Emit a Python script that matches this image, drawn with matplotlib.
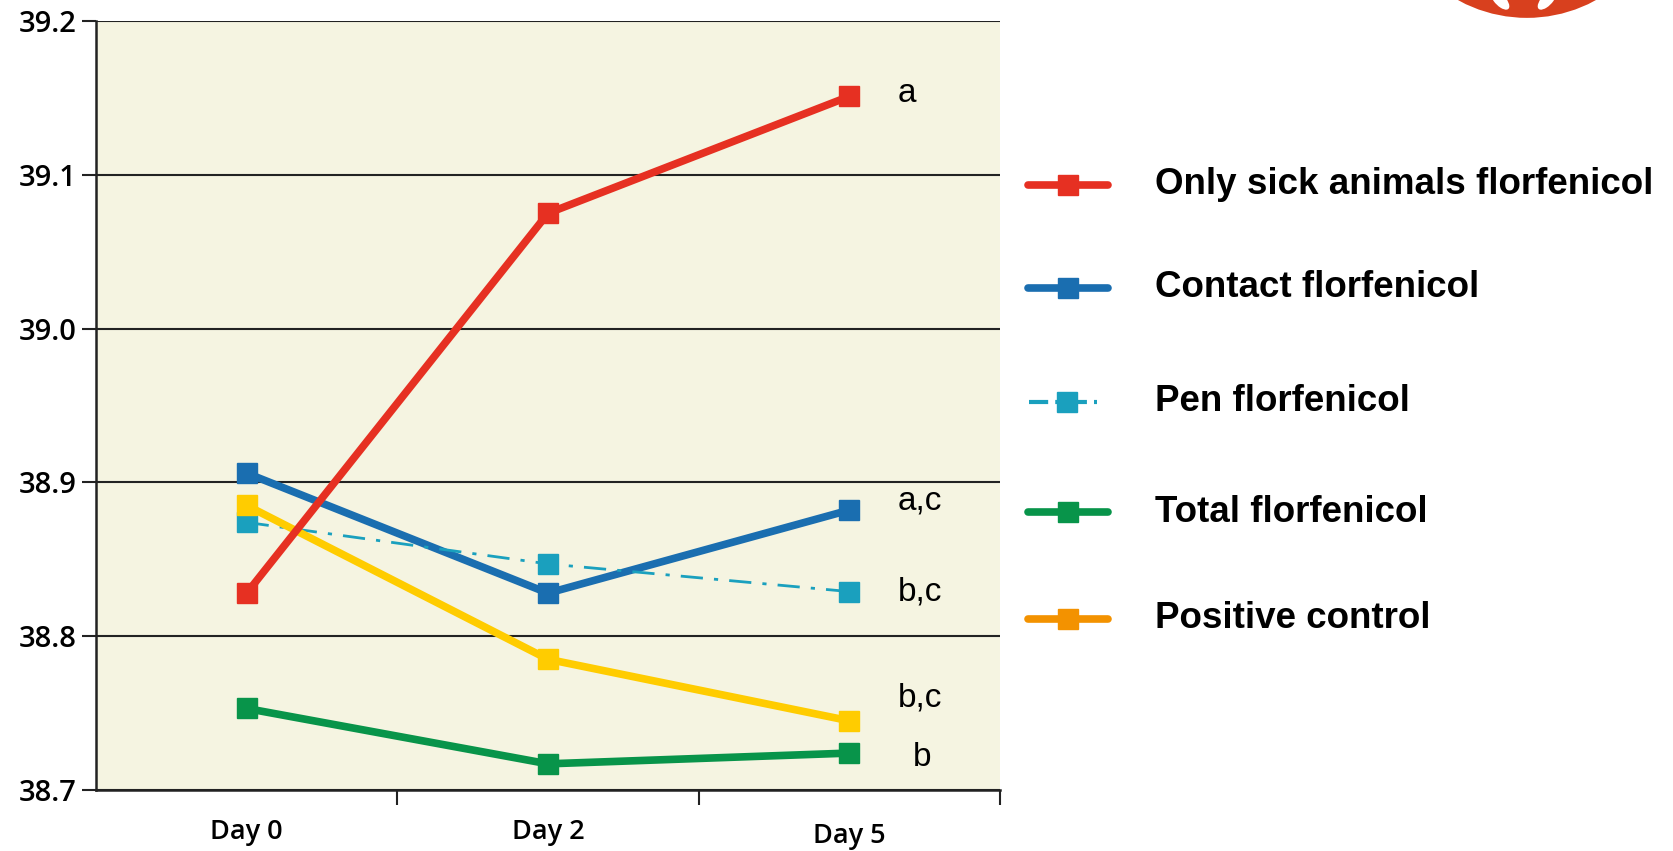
import matplotlib.pyplot as plt
from matplotlib.lines import Line2D
from matplotlib.patches import Ellipse

days = ['Day 0', 'Day 2', 'Day 5']
yticks = [38.7, 38.8, 38.9, 39.0, 39.1, 39.2]

only_sick = [38.828, 39.075, 39.151]
contact = [38.906, 38.828, 38.882]
pen = [38.874, 38.847, 38.829]
total = [38.753, 38.717, 38.724]
positive = [38.885, 38.785, 38.745]

labels = ['Only sick animals florfenicol', 'Contact florfenicol', 'Pen florfenicol',
          'Total florfenicol', 'Positive control']
letters = ['a', 'a,c', 'b,c', 'b', 'b,c']
letter_y = [39.153, 38.888, 38.829, 38.721, 38.760]

red = '#e63022'
blue = '#1a6eb0'
cyan = '#1aa0be'
green = '#08944a'
yellow = '#ffcc00'
orange = '#f39200'

fig = plt.figure(figsize=(16.73, 8.51), dpi=100)
ax = fig.add_axes([0.0574, 0.0717, 0.5403, 0.9036])
ax.set_facecolor('#f5f4e1')

x = list(range(len(days)))
series = [(only_sick, red, '-', 5.5), (contact, blue, '-', 5.5), (pen, cyan, (0, (8, 4, 1.5, 4)), 2),
          (total, green, '-', 5.5), (positive, yellow, '-', 5.5)]
# draw order: green, yellow, pen, blue, red on top
for idx in [3, 4, 2, 1, 0]:
    vals, col, ls, lw = series[idx]
    ax.plot(x, vals, color=col, linestyle=ls, linewidth=lw, marker='s', markersize=15,
            zorder=3 + idx * 0.1 if idx else 4, solid_capstyle='round')

for i, (txt, yv) in enumerate(zip(letters, letter_y)):
    xx = 2.24 if txt == 'b' else 2.16
    ha = 'center' if txt == 'b' else 'left'
    ax.text(xx, yv, txt, fontsize=24, family='Liberation Sans', ha=ha, va='center')

ax.set_xlim(-0.5, 2.5)
ax.set_ylim(38.7, 39.2)
ax.set_yticks(yticks)
ax.set_yticklabels(['%.1f' % v for v in yticks], family='Open Sans', fontsize=21,
                   weight='semibold')
ax.yaxis.grid(True, color='#222222', linewidth=1.5)
ax.set_axisbelow(True)
ax.tick_params(axis='y', length=10, width=1.5, color='#222222', pad=4)

ax.set_xticks([0.5, 1.5, 2.5])
ax.set_xticklabels([])
ax.tick_params(axis='x', length=11, width=1.5, color='#222222')
for i, d in enumerate(days):
    ax.text(i, 38.7 - 0.027 - (0.003 if i == 2 else 0), d, fontsize=19.5, family='Open Sans',
            weight='semibold', ha='center', va='center')

for s in ['top', 'right']:
    ax.spines[s].set_visible(False)
for s in ['left', 'bottom']:
    ax.spines[s].set_linewidth(1.8)
    ax.spines[s].set_color('#222222')

# legend drawn row by row
leg_y = [0.783, 0.662, 0.528, 0.398, 0.273]
leg_cols = [red, blue, cyan, green, orange]
for i, (lab, col) in enumerate(zip(labels, leg_cols)):
    yy = leg_y[i]
    if i == 2:
        fig.add_artist(Line2D([0.615, 0.656], [yy, yy], color=col, linewidth=3,
                              linestyle=(0, (4.6, 1.7, 7.6, 1.7, 0.8, 5))))
        fig.add_artist(Line2D([0.638], [yy], color=col, marker='s', markersize=14))
    else:
        fig.add_artist(Line2D([0.6145, 0.6625], [yy, yy], color=col, linewidth=5.5,
                              solid_capstyle='round'))
        fig.add_artist(Line2D([0.6385], [yy], color=col, marker='s', markersize=14))
    fig.text(0.6905, yy, lab, fontsize=26.5, family='Liberation Sans', weight='bold', va='center')

# logo fragment in the corner
fig.add_artist(Ellipse((0.9127, 1.147), 0.171, 0.336, transform=fig.transFigure,
                       facecolor='#d8401e', edgecolor='none'))
fig.add_artist(Ellipse((0.8966, 1.0), 0.008, 0.024, angle=20, transform=fig.transFigure,
                       facecolor='white', edgecolor='none'))
fig.add_artist(Ellipse((0.9247, 1.0), 0.008, 0.024, angle=-20, transform=fig.transFigure,
                       facecolor='white', edgecolor='none'))

fig.savefig('out.png', dpi=100)
